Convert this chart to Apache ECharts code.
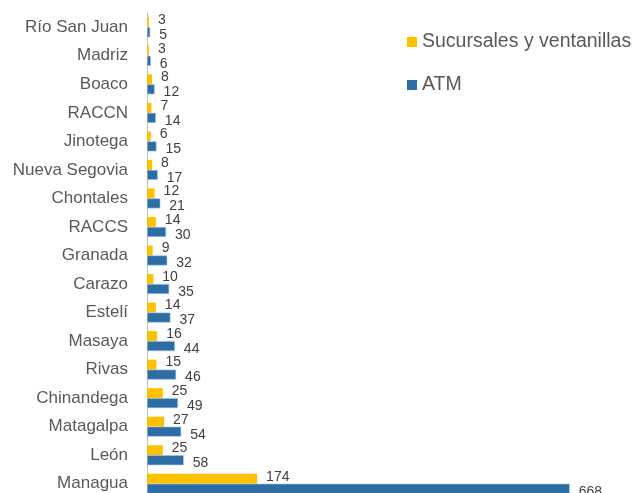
<!DOCTYPE html>
<html>
<head>
<meta charset="utf-8">
<script src="https://cdn.jsdelivr.net/npm/echarts@6/dist/echarts.min.js"></script>
<style>
  html, body { margin: 0; padding: 0; background: #fff; }
  #chart { width: 637px; height: 493px; }
</style>
</head>
<body>
<div id="chart"></div>
<script>
  const departamentos = ['Río San Juan', 'Madriz', 'Boaco', 'RACCN', 'Jinotega', 'Nueva Segovia', 'Chontales',
    'RACCS', 'Granada', 'Carazo', 'Estelí', 'Masaya', 'Rivas', 'Chinandega', 'Matagalpa', 'León', 'Managua'];
  const sucursales = [3, 3, 8, 7, 6, 8, 12, 14, 9, 10, 14, 16, 15, 25, 27, 25, 174];
  const atm = [5, 6, 12, 14, 15, 17, 21, 30, 32, 35, 37, 44, 46, 49, 54, 58, 668];

  const font = 'Liberation Sans';
  const chart = echarts.init(document.getElementById('chart'));

  chart.setOption({
    animation: false,
    textStyle: { fontFamily: font },
    legend: {
      orient: 'vertical',
      left: 402,
      top: 27,
      icon: 'rect',
      itemWidth: 10,
      itemHeight: 10,
      itemGap: 23,
      itemStyle: { borderWidth: 0 },
      textStyle: { fontSize: 19.5, color: '#595959', fontFamily: font },
      data: ['Sucursales y ventanillas', 'ATM']
    },
    grid: { left: 147, top: 13, width: 443, height: 485, outerBoundsMode: 'none' },
    xAxis: {
      type: 'value',
      min: 0,
      max: 700,
      show: false
    },
    yAxis: {
      type: 'category',
      inverse: true,
      data: departamentos,
      axisLine: { show: true, lineStyle: { color: '#BFBFBF', width: 1 } },
      axisTick: { show: false },
      axisLabel: { fontSize: 17, color: '#595959', margin: 19, fontFamily: font }
    },
    series: [
      {
        name: 'Sucursales y ventanillas',
        type: 'bar',
        data: sucursales,
        barGap: '0%',
        barCategoryGap: '30%',
        itemStyle: { color: '#FFC000' },
        label: { show: true, position: 'right', distance: 9, offset: [0, -2], fontSize: 14, color: '#404040' }
      },
      {
        name: 'ATM',
        type: 'bar',
        data: atm,
        barGap: '0%',
        barCategoryGap: '30%',
        itemStyle: { color: '#2E6DA4', borderColor: '#9DC3E6', borderWidth: 0.6 },
        label: { show: true, position: 'right', distance: 9, offset: [0, 3], fontSize: 14, color: '#404040' }
      }
    ]
  });
</script>
</body>
</html>
